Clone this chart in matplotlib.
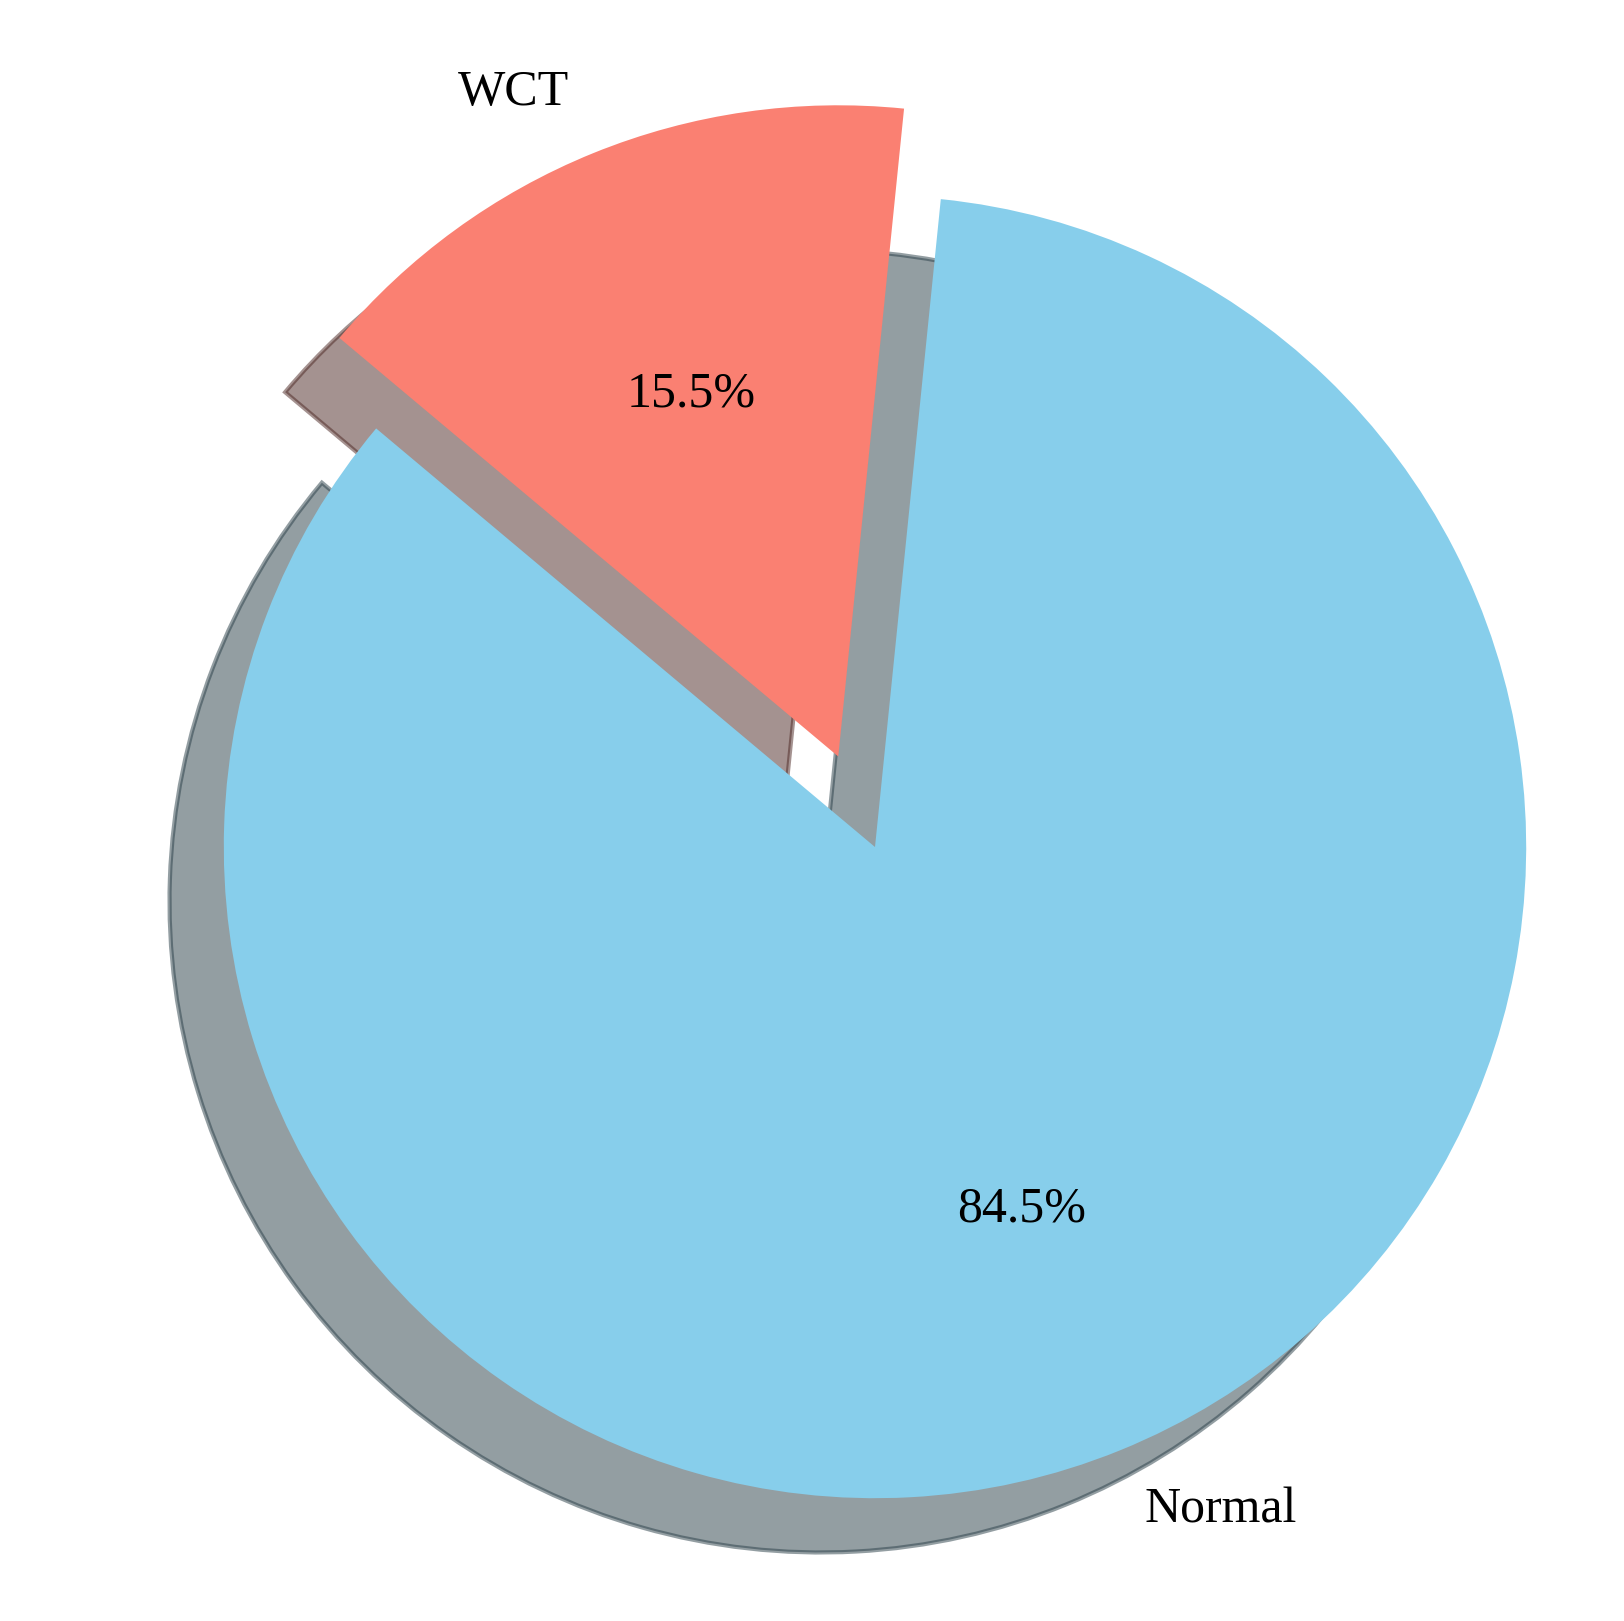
import matplotlib.pyplot as plt

labels = ['Normal', 'WCT']
sizes = [84.5, 15.5]
colors = ['skyblue', 'salmon']
explode = (0, 0.15)

plt.rcParams['font.family'] = ['Liberation Serif', 'DejaVu Serif']
plt.rcParams['font.size'] = 12

fig = plt.figure(figsize=(1624 / 300, 1621 / 300), dpi=300)
# axes placed so the pie centre/radius match the reference
ax = fig.add_axes([61 / 1624, -40 / 1621, 1628 / 1624, 1628 / 1621])
ax.pie(sizes, labels=labels, colors=colors, explode=explode,
       autopct='%1.1f%%', shadow=True, startangle=140)

fig.savefig('out.png', dpi=300)
